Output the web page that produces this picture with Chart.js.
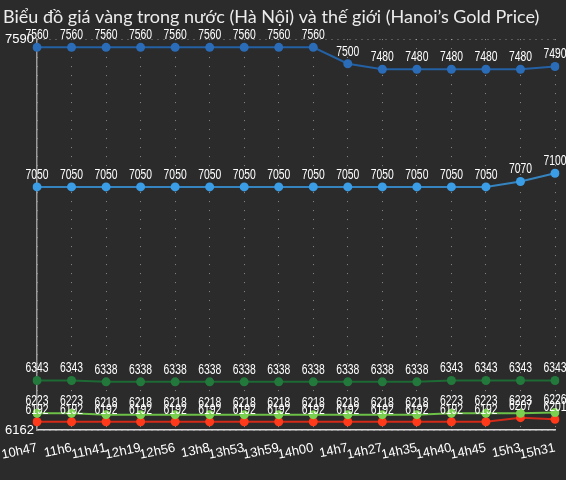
<!DOCTYPE html>
<html>
<head>
<meta charset="utf-8">
<script src="https://cdn.jsdelivr.net/npm/chart.js@4/dist/chart.umd.min.js"></script>
<style>
  html, body { margin: 0; padding: 0; background: #2b2b2b; }
  #wrap { width: 566px; height: 480px; }
</style>
</head>
<body>
<div id="wrap"><canvas id="chart"></canvas></div>
<script>
const TITLE = "Biểu đồ giá vàng trong nước (Hà Nội) và thế giới (Hanoi’s Gold Price)";

const times = ["10h47", "11h6", "11h41", "12h19", "12h56", "13h8", "13h53", "13h59",
  "14h00", "14h7", "14h27", "14h35", "14h40", "14h45", "15h3", "15h31"];

const hanoiSell = [7560, 7560, 7560, 7560, 7560, 7560, 7560, 7560, 7560, 7500, 7480, 7480, 7480, 7480, 7480, 7490];
const hanoiBuy = [7050, 7050, 7050, 7050, 7050, 7050, 7050, 7050, 7050, 7050, 7050, 7050, 7050, 7050, 7070, 7100];
const worldHigh = [6343, 6343, 6338, 6338, 6338, 6338, 6338, 6338, 6338, 6338, 6338, 6338, 6343, 6343, 6343, 6343];
const worldMid = [6223, 6223, 6218, 6218, 6218, 6218, 6218, 6218, 6218, 6218, 6218, 6218, 6223, 6223, 6223, 6226];
const worldLow = [6192, 6192, 6192, 6192, 6192, 6192, 6192, 6192, 6192, 6192, 6192, 6192, 6192, 6192, 6207, 6201];

const yMin = 6162;
const yMax = 7590;

const SANS = '"Liberation Sans", Arial, sans-serif';

// dark backdrop behind everything
const background = {
  id: "background",
  beforeDraw(chart) {
    const ctx = chart.ctx;
    ctx.save();
    ctx.fillStyle = "#2b2b2b";
    ctx.fillRect(0, 0, chart.width, chart.height);
    ctx.restore();
  }
};

// value written above every point, squeezed to look condensed
const valueLabels = {
  id: "valueLabels",
  afterDatasetsDraw(chart) {
    const ctx = chart.ctx;
    const squeeze = 0.74;
    ctx.save();
    ctx.font = "14px " + SANS;
    ctx.fillStyle = "#ffffff";
    ctx.textAlign = "center";
    ctx.textBaseline = "bottom";
    chart.data.datasets.forEach((ds, i) => {
      chart.getDatasetMeta(i).data.forEach((pt, j) => {
        ctx.save();
        ctx.translate(pt.x, pt.y - 5);
        ctx.scale(squeeze, 1);
        ctx.fillText(String(ds.data[j]), 0, 0);
        ctx.restore();
      });
    });
    ctx.restore();
  }
};

function series(label, data, line, point) {
  return {
    label,
    data,
    borderColor: line,
    backgroundColor: point,
    pointBackgroundColor: point,
    pointBorderWidth: 0,
    pointRadius: 4.5,
    borderWidth: 2,
    tension: 0
  };
}

new Chart(document.getElementById("chart"), {
  type: "line",
  data: {
    labels: times,
    datasets: [
      series("Hà Nội bán ra", hanoiSell, "#2460a4", "#2a6cb8"),
      series("Hà Nội mua vào", hanoiBuy, "#3584c0", "#3a9de6"),
      series("Thế giới cao", worldHigh, "#1d6a35", "#22793b"),
      series("Thế giới", worldMid, "#6dc048", "#7bd04f"),
      series("Thế giới thấp", worldLow, "#d42a1a", "#ff3a1a")
    ]
  },
  options: {
    responsive: true,
    maintainAspectRatio: false,
    animation: false,
    layout: { padding: { left: 3, right: 11, top: 0, bottom: 0 } },
    plugins: {
      legend: { display: false },
      tooltip: { enabled: false },
      title: {
        display: true,
        text: TITLE,
        align: "start",
        color: "#ececec",
        font: { family: "Lato", size: 18, weight: "normal" },
        padding: { top: 6, bottom: 11.5 }
      }
    },
    scales: {
      x: {
        offset: false,
        grid: { color: "rgba(255,255,255,0.45)", drawTicks: false },
        border: { color: "#d8d8d8", width: 1.5, dash: [1, 8] },
        ticks: {
          color: "#ffffff",
          font: { family: SANS, size: 13 },
          autoSkip: false,
          maxRotation: 12,
          minRotation: 12,
          padding: 10
        },
        afterFit(scale) {
          scale.height = 50;
          // let the rotated first label hang past the plot edge
          scale.paddingLeft = 0;
          scale.paddingRight = 0;
        }
      },
      y: {
        min: yMin,
        max: yMax,
        grid: { color: "rgba(255,255,255,0.45)", drawTicks: false },
        border: { color: "#9a9a9a", width: 1.5, dash: [1, 5] },
        ticks: {
          color: "#ffffff",
          font: { family: SANS, size: 13 },
          padding: 3,
          callback: (v) => String(v)
        },
        afterBuildTicks(scale) {
          scale.ticks = [{ value: yMin }, { value: yMax }];
        },
        afterFit(scale) { scale.width = 34; }
      }
    }
  },
  plugins: [background, valueLabels]
});
</script>
</body>
</html>
